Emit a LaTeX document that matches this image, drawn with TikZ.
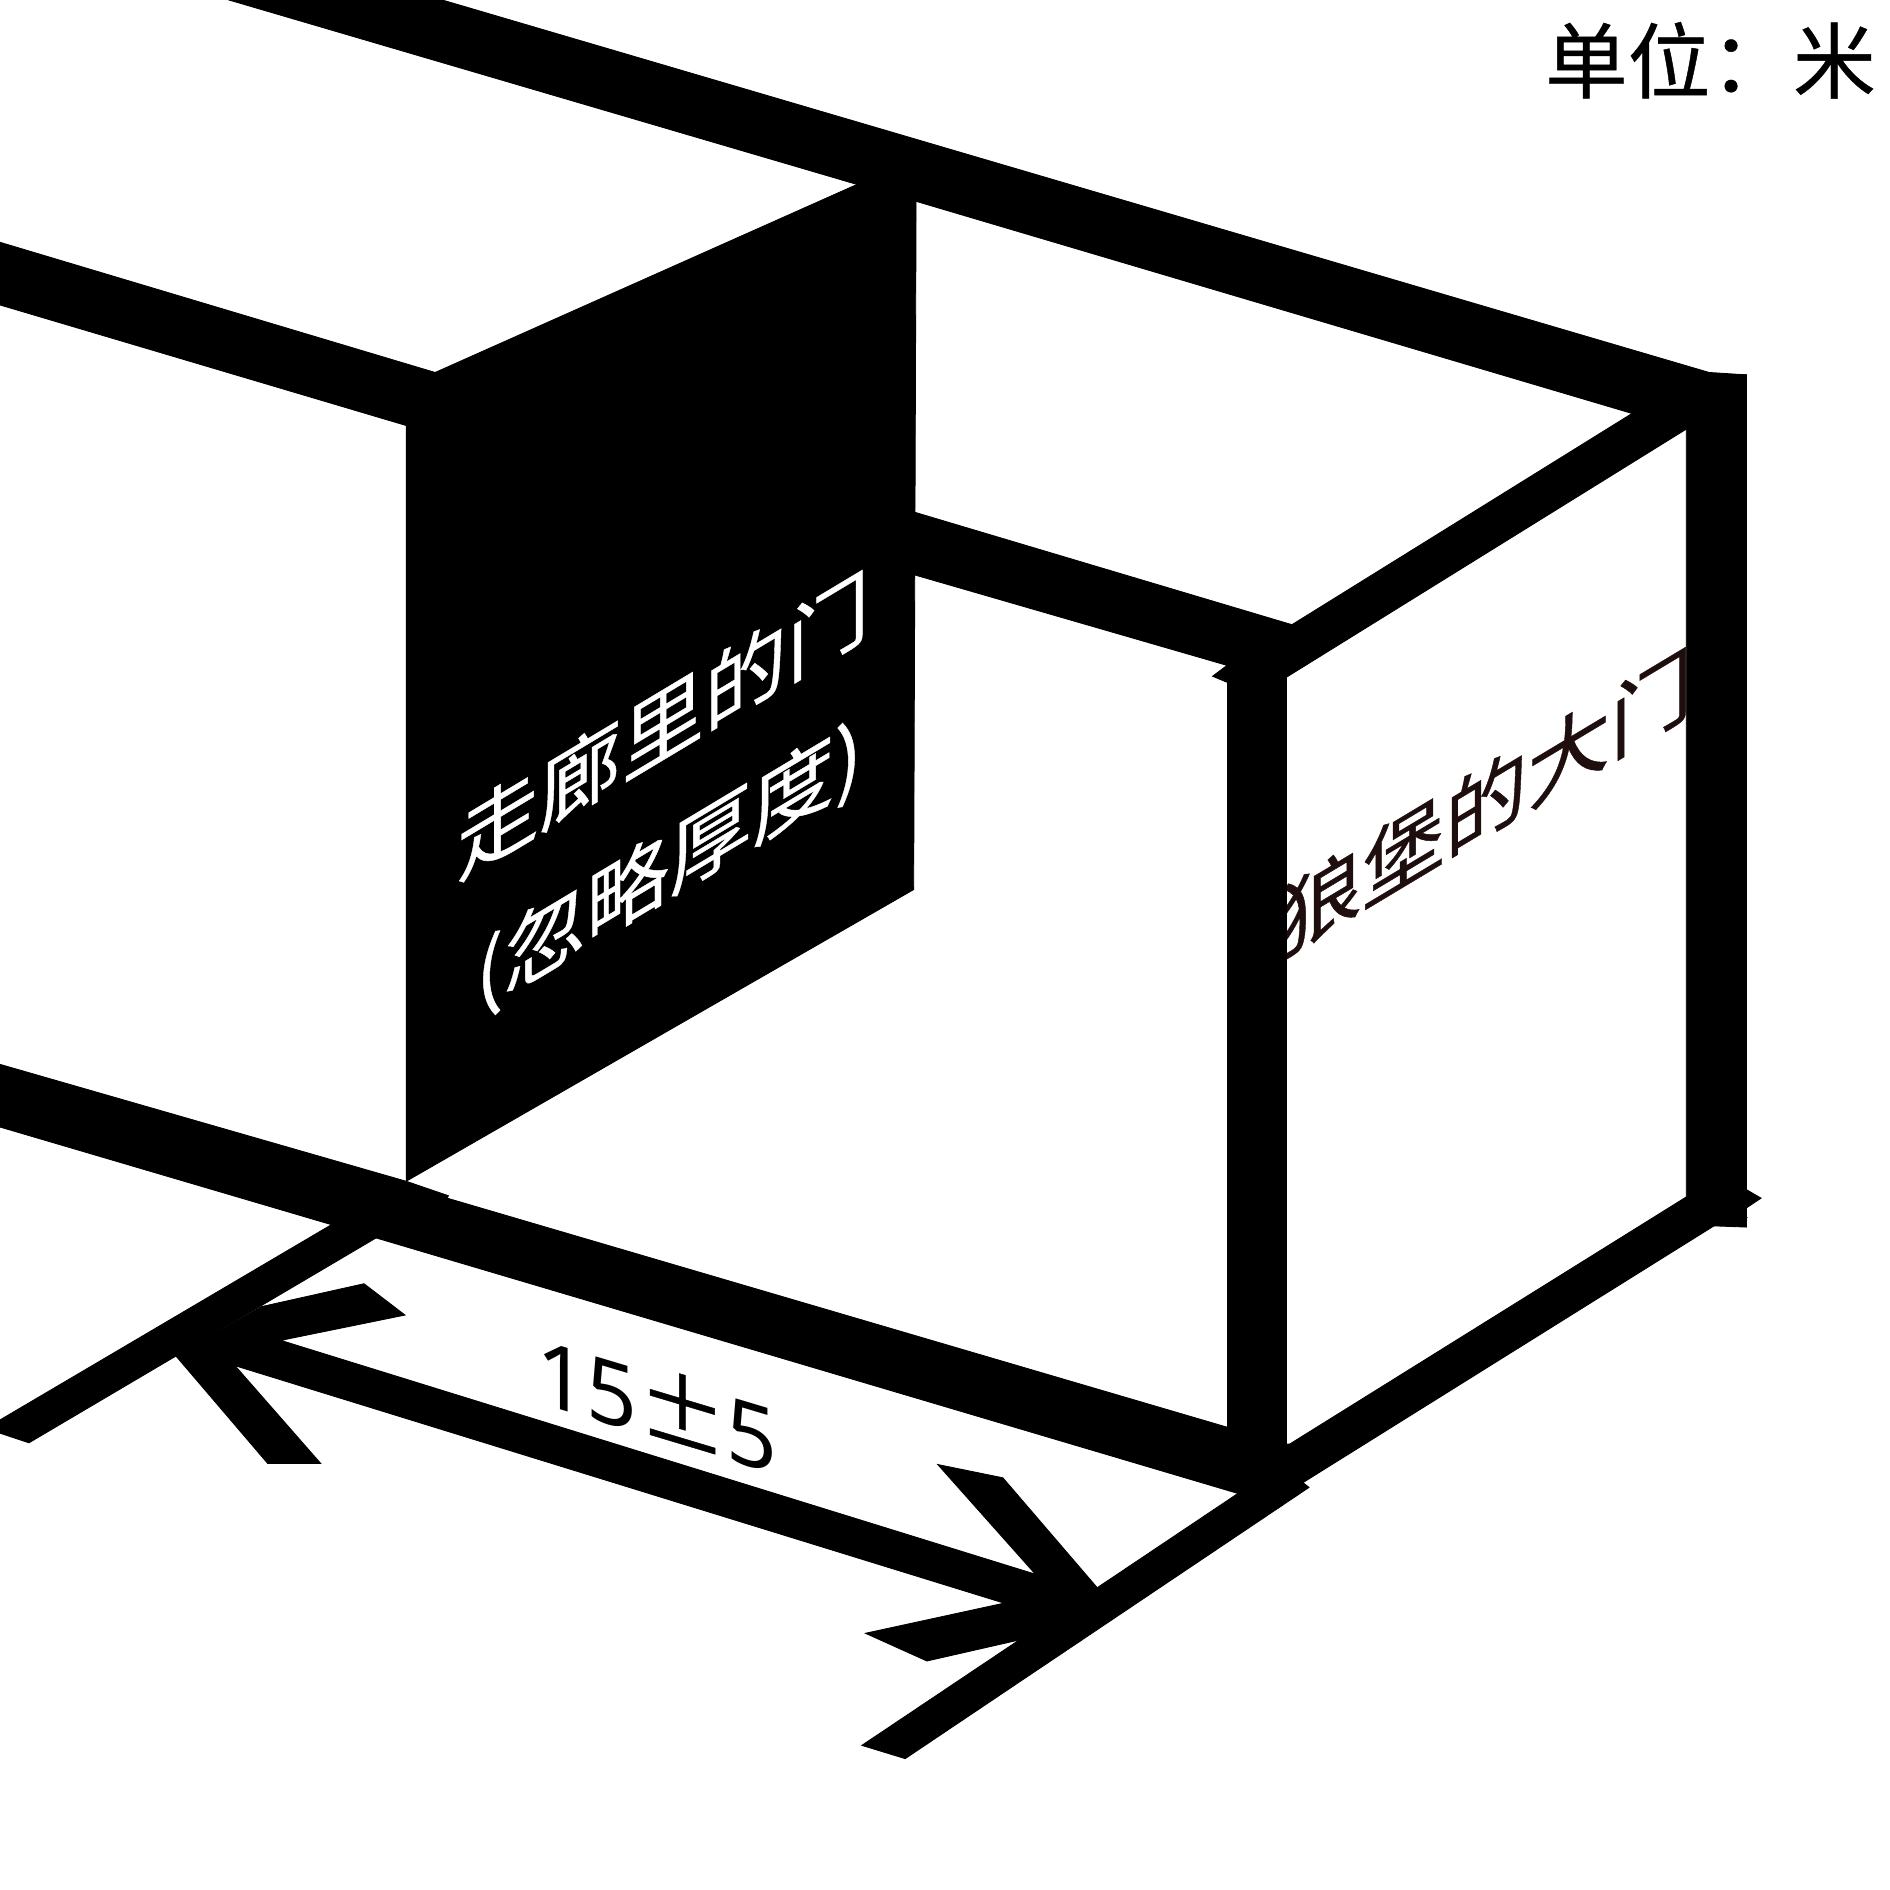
\documentclass[tikz,border=0pt]{standalone}
\usepackage{fontspec}
\setmainfont[FakeBold=0.5]{Noto Sans CJK SC}
\newfontfamily\dimfont{Noto Sans}
\definecolor{gatetext}{RGB}{30,14,14}
\begin{document}
\begin{tikzpicture}[
  x=0.01cm, y=-0.01cm,
  beam/.style={fill=black, draw=black, line width=0.2pt},
  facelabel/.style={inner sep=0pt, font=\fontsize{19.5}{19.5}\selectfont, yslant=0.6, transform shape},
  dimlabel/.style={inner sep=0pt, font=\fontsize{21}{21}\selectfont, yslant=-0.3, transform shape}
]
  \useasboundingbox (0,0) rectangle (1568,1568);
  \node[facelabel, text=gatetext] (gatelabel) at (1233,665) {狼堡的大门};
  % frame
  \path[beam] (190,0) -- (367,0) -- (1418,309) -- (1449,311) -- (1449,360) -- (1399,356) -- (1354,343) -- (760,167) -- (711,153) -- cycle;
  \path[beam] (1399,311) -- (1449,311) -- (1449,987) -- (1461,994) -- (1449,1002) -- (1449,1018) -- (1422,1017) -- (1399,1000) -- cycle;
  \path[beam] (1354,343) -- (1399,356) -- (1067,562) -- (1040,580) -- (1018,566) -- (1006,561) -- (1018,552) -- (759,477) -- (759,425) -- (1071,518) -- (1069,520) -- cycle;
  \path[beam] (1018,560) -- (1067,560) -- (1067,1230) -- (1018,1230) -- cycle;
  \path[beam] (0,883) -- (337,980) -- (372,992) -- (371,994) -- (1018,1184) -- (1067,1198) -- (1067,1240) -- (1027,1239) -- (312,1027) -- (275,1016) -- (0,935) -- cycle;
  \path[beam] (0,201) -- (361,309) -- (337,353) -- (0,253) -- cycle;
  \path[beam] (337,353) -- (361,309) -- (711,153) -- (760,167) -- (758,738) -- (337,980) -- cycle;
  \path[beam] (1067,1198) -- (1070,1198) -- (1399,993) -- (1449,1010) -- (1422,1017) -- (1081,1230) -- (1086,1234) -- (751,1459) -- (715,1448) -- (1027,1239) -- cycle;
  % dimension
  \path[beam] (275,1016) -- (312,1027) -- (24,1197) -- (0,1189) -- (0,1178) -- cycle;
  \path[beam] (217,1084) -- (302,1065) -- (336,1091) -- (233,1112) -- (859,1306) -- (778,1215) -- (832,1226) -- (911,1318) -- (848,1360) -- (769,1378) -- (718,1355) -- (833,1330) -- (195,1133) -- (266,1214) -- (222,1214) -- (146,1125) -- cycle;
  \node[facelabel, text=white] (doorlabel) at (550,601) {走廊里的门};
  \node[facelabel, text=white] (ignorelabel) at (555,720) {(忽略厚度)};
  \node[dimlabel] (widthlabel) at (545,1164) {{\dimfont 15}±{\dimfont 5}};
  \node[inner sep=0pt, font=\fontsize{19.5}{19.5}\selectfont] (unitlabel) at (1419,50) {单位：米};
\end{tikzpicture}
\end{document}
